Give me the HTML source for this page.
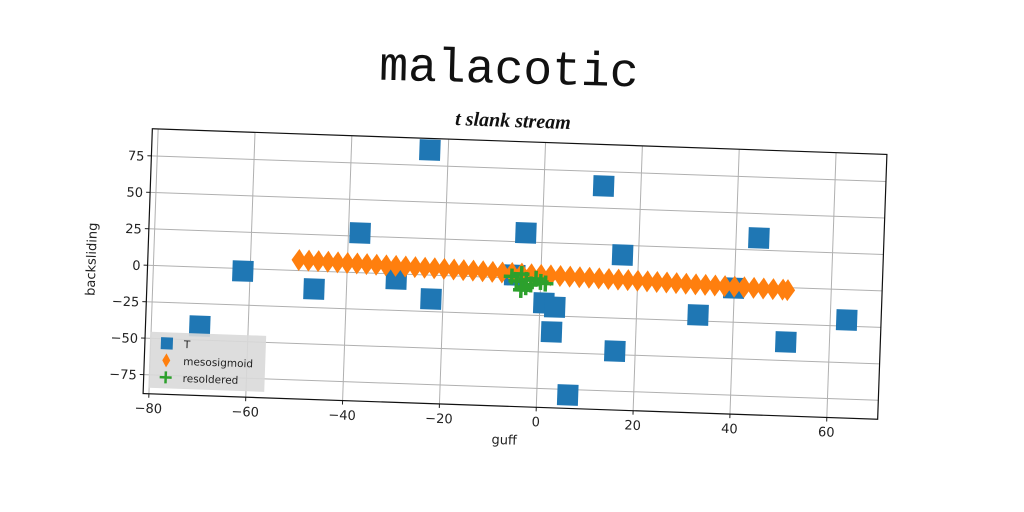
<!DOCTYPE html>
<html><head><meta charset="utf-8"><style>
body{margin:0;background:#fff;width:1024px;height:512px;overflow:hidden}
svg{display:block}
text{font-family:"DejaVu Sans","Liberation Sans",sans-serif;fill:#222}
</style></head><body>
<svg id="chart" width="1024" height="512" viewBox="0 0 1024 512" xmlns="http://www.w3.org/2000/svg">
<text x="509" y="83" text-anchor="middle" transform="rotate(1.5 509 68)" style="font-family:'Liberation Mono',monospace;font-size:48px;fill:#111">malacotic</text>
<text x="513" y="127" text-anchor="middle" transform="rotate(2 513 120)" style="font-family:'Liberation Serif',serif;font-style:italic;font-weight:bold;font-size:20px;fill:#111">t slank stream</text>
<g id="plot" transform="rotate(2 515 274)"></g>
</svg>
<script>
const xTicks=[-80,-60,-40,-20,0,20,40,60];
const yTicks=[-75,-50,-25,0,25,50,75];
const tX=[-70,-61.5,-46.7,-37.6,-29.8,-23.8,-22.5,-3.4,-5.4,0.8,3.1,2.6,6.4,12.3,16.7,15.8,32.7,39.9,44.7,51,63.4];
const tY=[-40.4,-1.7,-12.3,27.2,-3.5,85.7,-16.3,31.2,2,-16.4,-18.9,-36,-78.8,65.2,18.4,-47.6,-20.9,-1.6,33.3,-37.3,-20.8];
const mX=[-50,-48,-46,-44,-42,-40,-38,-36,-34,-32,-30,-28,-26,-24,-22,-20,-18,-16,-14,-12,-10,-8,-6,-4,-2,0,2,4,6,8,10,12,14,16,18,20,22,24,26,28,30,32,34,36,38,40,42,44,46,48,50,51];
const mY=[7.2,7,6.9,6.7,6.5,6.3,6.2,6,5.8,5.6,5.5,5.3,5.1,4.9,4.8,4.6,4.4,4.2,4.1,3.9,3.7,3.5,3.4,3.2,3,2.8,2.7,2.5,2.3,2.1,2,1.8,1.6,1.4,1.3,1.1,0.9,0.7,0.6,0.4,0.2,0,-0.1,-0.3,-0.5,-0.7,-0.8,-1,-1.2,-1.4,-1.5,-1.7];
const rX=[-6,-5,-4,-3,-2,-1,0,-3,-4,1];
const rY=[1,-2,3,-1,-4,0,-2,-6,-8,-3];
const X0=147.5,Y0=141.5,W=735,H=265,xmin=-81.2,xmax=70.5,ymin=-88,ymax=93.6;
const sx=v=>X0+(v-xmin)/(xmax-xmin)*W, sy=v=>Y0+(ymax-v)/(ymax-ymin)*H;
const g=document.getElementById('plot'),NS='http://www.w3.org/2000/svg';
function mk(t,a,p){const e=document.createElementNS(NS,t);for(const k in a)e.setAttribute(k,a[k]);(p||g).appendChild(e);return e;}
xTicks.forEach(v=>{
 const l=mk('line',{x1:sx(v),x2:sx(v),y1:Y0,y2:Y0+H,stroke:'#b0b0b0','stroke-width':1});
 
 
 mk('line',{x1:sx(v),x2:sx(v),y1:Y0+H,y2:Y0+H+4,stroke:'#222'});
 const t=mk('text',{x:sx(v),y:Y0+H+19,'text-anchor':'middle','font-size':13});
 t.textContent=String(v).replace('-','\u2212');
 
 
});
yTicks.forEach(v=>{
 const l=mk('line',{x1:X0,x2:X0+W,y1:sy(v),y2:sy(v),stroke:'#b0b0b0','stroke-width':1});
 
 
 mk('line',{x1:X0-4,x2:X0,y1:sy(v),y2:sy(v),stroke:'#222'});
 const t=mk('text',{x:X0-7,y:sy(v)+5,'text-anchor':'end','font-size':13});
 t.textContent=String(v).replace('-','\u2212');
 
 
});
tX.forEach((v,i)=>{
 const r=mk('rect',{x:sx(v)-10.5,y:sy(tY[i])-10.5,width:21,height:21,fill:'#1f77b4'});
 
 
});
mX.forEach((v,i)=>{
 const x=sx(v),y=sy(mY[i]);
 const p=mk('polygon',{points:`${x},${y-11} ${x+7.5},${y} ${x},${y+11} ${x-7.5},${y}`,fill:'#ff7f0e'});
 
 
});
rX.forEach((v,i)=>{
 const x=sx(v),y=sy(rY[i]);
 const p=mk('path',{d:`M${x-8},${y}H${x+8}M${x},${y-8}V${y+8}`,stroke:'#2ca02c','stroke-width':3.5});
 
 
});
const fr=mk('rect',{x:X0,y:Y0,width:W,height:H,fill:'none',stroke:'#111','stroke-width':1.2});


const xl=mk('text',{x:X0+W/2-5,y:Y0+H+38,'text-anchor':'middle','font-size':13});
xl.textContent='guff';


const yl=mk('text',{x:0,y:0,'text-anchor':'middle','font-size':13,transform:`translate(${X0-52},${Y0+H/2}) rotate(-90)`});
yl.textContent='backsliding';


const lg=mk('g',{});


const lx=X0+5,ly=Y0+H-62;
mk('rect',{x:lx,y:ly,width:116,height:56,fill:'#d9d9d9',opacity:0.9},lg);
const items=[['T','sq'],['mesosigmoid','di'],['resoldered','pl']];
items.forEach((it,i)=>{
 const cy=ly+11+i*17;
 const e=mk('g',{},lg);
 
 
 const cx=lx+17;
 if(it[1]=='sq')mk('rect',{x:cx-6,y:cy-6,width:12,height:12,fill:'#1f77b4'},e);
 else if(it[1]=='di')mk('polygon',{points:`${cx},${cy-7} ${cx+4},${cy} ${cx},${cy+7} ${cx-4},${cy}`,fill:'#ff7f0e'},e);
 else mk('path',{d:`M${cx-6},${cy}H${cx+6}M${cx},${cy-6}V${cy+6}`,stroke:'#2ca02c','stroke-width':2.5},e);
 const t=mk('text',{x:lx+34,y:cy+4,'font-size':10.5},e);t.textContent=it[0];
});
</script>
</body></html>
